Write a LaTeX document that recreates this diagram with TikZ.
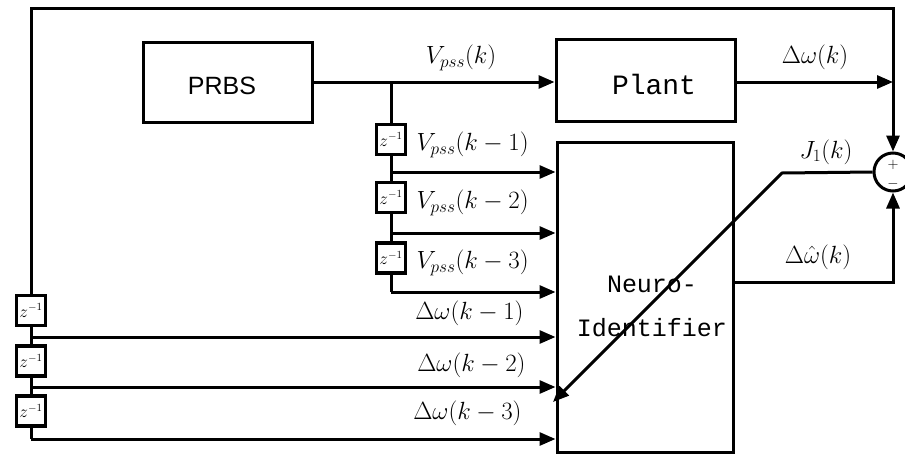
\documentclass[tikz,border=0pt]{standalone}
\usepackage{fontspec}
\usetikzlibrary{arrows.meta,calc}
\newfontfamily\monof{Liberation Mono}
\newfontfamily\sansf{Liberation Sans}
\begin{document}
\begin{tikzpicture}[x=1pt,y=-1pt,line width=3pt,
  arr/.style={-{Triangle[length=16pt,width=13pt]}},
  blk/.style={draw,inner sep=0pt},
  zbox/.style={draw,line width=3.2pt,minimum width=29pt,minimum height=30pt,inner sep=0pt,fill=white,font=\fontsize{16}{16}\selectfont},
  lbl/.style={inner sep=0pt,font=\fontsize{23}{26}\selectfont},
  pm/.style={inner sep=0pt,font=\fontsize{14}{14}\selectfont}]
\useasboundingbox (0,0) rectangle (905,458);
% blocks
\node[blk,minimum width=169pt,minimum height=80pt] (prbs) at (227.5,82) {};
\node[inner sep=0pt,font=\sansf\fontsize{25}{25}\selectfont] (prbst) at (222,86) {PRBS};
\node[blk,minimum width=179pt,minimum height=82pt] (plant) at (645.5,80) {};
\node[inner sep=0pt,font=\monof\fontsize{28}{28}\selectfont] (plantt) at (654,84) {Plant};
\node[blk,minimum width=176pt,minimum height=310pt] (neuro) at (645,297) {};
\node[inner sep=0pt,align=center,font=\monof\fontsize{25}{44}\selectfont] (neurot) at (652,306) {Neuro-\\Identifier};
\node[draw,circle,minimum size=38pt,inner sep=0pt] (sum) at (893,172) {};
\node[pm] (plus) at (893,165) {$+$};
\node[pm] (minus) at (893,184) {$-$};
% delay boxes, right chain
\node[zbox] (zr1) at (391,139.5) {$z^{-1}$};
\node[zbox] (zr2) at (391,197.5) {$z^{-1}$};
\node[zbox] (zr3) at (391,258) {$z^{-1}$};
% delay boxes, left chain
\node[zbox] (zl1) at (31,310.5) {$z^{-1}$};
\node[zbox] (zl2) at (31,361) {$z^{-1}$};
\node[zbox] (zl3) at (31,411) {$z^{-1}$};
% coordinates
\coordinate (br) at (391,82);
\coordinate (tap) at (893,82);
\coordinate (c1) at (893,8);
\coordinate (c2) at (31,8);
\coordinate (r1) at (391,172);
\coordinate (r2) at (391,233);
\coordinate (r3) at (391,292);
\coordinate (l1) at (31,337);
\coordinate (l2) at (31,387);
\coordinate (l3) at (31,439);
\coordinate (o) at (893,282);
\coordinate (j1) at (782,173);
\coordinate (jend) at (553,402);
% connectors
\draw[arr] (prbs.east) -- (prbs.east -| plant.west);
\draw (br) -- (zr1.north);
\draw (zr1.south) -- (zr2.north);
\draw (zr2.south) -- (zr3.north);
\draw (zr3.south) -- (r3);
\draw[arr] (r1) -- (r1 -| neuro.west);
\draw[arr] (r2) -- (r2 -| neuro.west);
\draw[arr] (r3) -- (r3 -| neuro.west);
\draw[arr] (plant.east |- tap) -- (tap);
\draw[line join=miter] (tap) -- (c1) -- (c2) -- (zl1.north);
\draw[arr] (tap) -- (sum.north);
\draw (zl1.south) -- (zl2.north);
\draw (zl2.south) -- (zl3.north);
\draw (zl3.south) -- (l3);
\draw[arr] (l1) -- (l1 -| neuro.west);
\draw[arr] (l2) -- (l2 -| neuro.west);
\draw[arr] (l3) -- (l3 -| neuro.west);
\draw[arr,line join=miter] (neuro.east |- o) -- (o) -- (sum.south);
\draw[arr] (sum.west) -- (j1) -- (jend);
% labels
\node[lbl] (lv0) at (461,58) {$V_{pss}(k)$};
\node[lbl] (lw0) at (815,57) {$\Delta\omega(k)$};
\node[lbl,anchor=west] (lv1) at (415,145) {$V_{pss}(k-1)$};
\node[lbl,anchor=west] (lv2) at (415,203) {$V_{pss}(k-2)$};
\node[lbl,anchor=west] (lv3) at (415,263) {$V_{pss}(k-3)$};
\node[lbl,anchor=east] (lw1) at (525,313) {$\Delta\omega(k-1)$};
\node[lbl,anchor=east] (lw2) at (527,365) {$\Delta\omega(k-2)$};
\node[lbl,anchor=east] (lw3) at (523,413) {$\Delta\omega(k-3)$};
\node[lbl] (lj) at (826,152) {$J_1(k)$};
\node[lbl] (lwh) at (818,257) {$\Delta\hat{\omega}(k)$};
\end{tikzpicture}
\end{document}
